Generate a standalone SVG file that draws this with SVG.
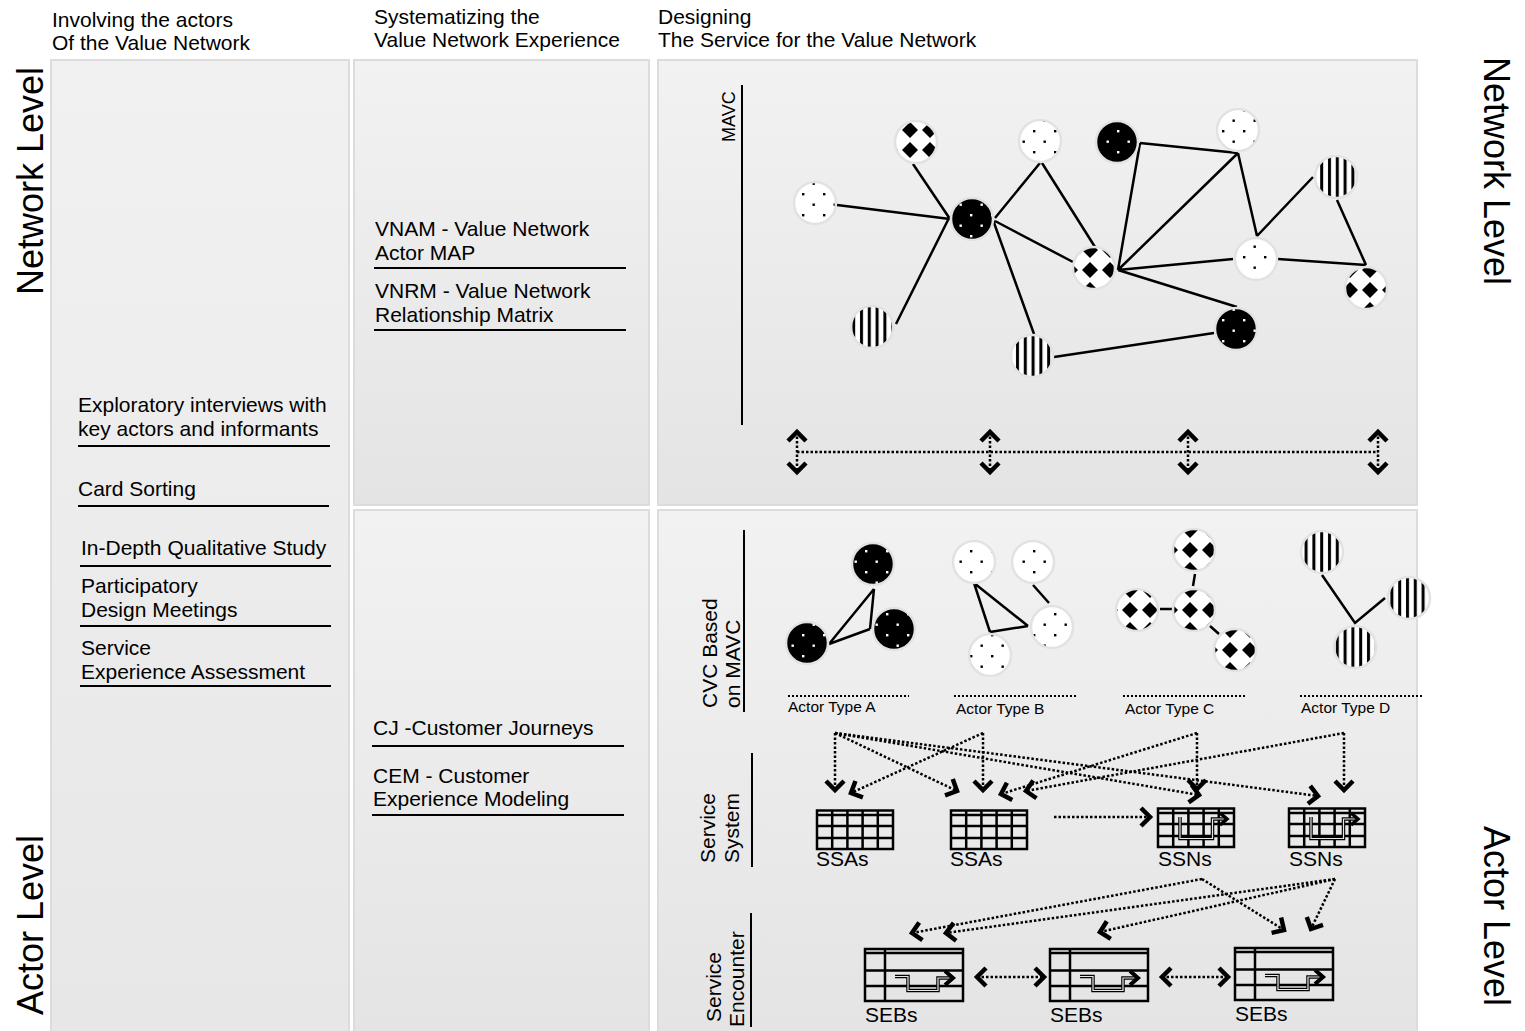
<svg xmlns="http://www.w3.org/2000/svg" width="1525" height="1031" viewBox="0 0 1525 1031">
<style>
text{font-family:"Liberation Sans",Arial,Helvetica,sans-serif;fill:#000}
.t{font-size:21px}
.side{font-size:36px}
.sm{font-size:15.5px}
.panel{stroke:#dcdcdc;stroke-width:2}
.rule{stroke:#000;stroke-width:2}
.edge{stroke:#000;stroke-width:2.5;fill:none}
.dot{stroke:#000;stroke-width:2.5;stroke-dasharray:2.5 2;fill:none}
.sep{stroke:#000;stroke-width:2;stroke-dasharray:2 2;fill:none}
.arr{marker-end:url(#chev)}
.both{marker-start:url(#chev);marker-end:url(#chev)}
.node{stroke:#e2e2e2;stroke-width:2.5}
.grid{fill:none;stroke:#000;stroke-width:2.5}
.flowo{fill:none;stroke:#000;stroke-width:3.5}
.flowi{fill:none;stroke:#e6e6e6;stroke-width:1.2}
</style>
<defs>
  <linearGradient id="bg" x1="0" y1="0" x2="0" y2="1">
    <stop offset="0" stop-color="#f2f2f2"/>
    <stop offset="1" stop-color="#e4e4e4"/>
  </linearGradient>
  <linearGradient id="bgl" x1="0" y1="0" x2="0" y2="1">
    <stop offset="0" stop-color="#f1f1f1"/>
    <stop offset="1" stop-color="#e7e7e7"/>
  </linearGradient>
  <pattern id="pDots" width="21" height="21" patternUnits="userSpaceOnUse">
    <rect width="21" height="21" fill="#fff"/>
    <rect x="4" y="4" width="2.4" height="2.4" fill="#000"/>
    <rect x="14.5" y="14.5" width="2.4" height="2.4" fill="#000"/>
  </pattern>
  <pattern id="pBlack" width="21" height="21" patternUnits="userSpaceOnUse">
    <rect width="21" height="21" fill="#000"/>
    <rect x="4" y="4" width="2.4" height="2.4" fill="#fff"/>
    <rect x="14.5" y="14.5" width="2.4" height="2.4" fill="#fff"/>
  </pattern>
  <pattern id="pDiam" width="20" height="20" patternUnits="userSpaceOnUse">
    <rect width="20" height="20" fill="#fff"/>
    <polygon points="10,2 18,10 10,18 2,10" fill="#000"/>
  </pattern>
  <pattern id="pStripe" width="7.8" height="8" patternUnits="userSpaceOnUse">
    <rect width="7.8" height="8" fill="#fff"/>
    <rect x="2" y="0" width="3" height="8" fill="#000"/>
  </pattern>
  <marker id="chev" viewBox="-2 -2 16 22" refX="9" refY="9" markerWidth="16" markerHeight="22" markerUnits="userSpaceOnUse" orient="auto-start-reverse" overflow="visible">
    <path d="M0,0 L9,9 L0,18" fill="none" stroke="#000" stroke-width="4.5"/>
  </marker>
  <g id="ssa">
    <rect x="0" y="0" width="76" height="38.5" class="grid"/>
    <path d="M0,4.5 H76 M0,15.5 H76 M0,27.5 H76 M15.2,0 V38.5 M30.4,0 V38.5 M45.6,0 V38.5 M60.8,0 V38.5" class="grid"/>
  </g>
  <g id="ssn">
    <use href="#ssa"/>
    <path d="M22,8.5 V30 H54.5 V10.5 H68" class="flowo"/>
    <path d="M22,8.5 V30 H54.5 V10.5 H68" class="flowi"/>
    <path d="M62,4.5 L69,10.5 L62,16.5" fill="none" stroke="#000" stroke-width="3.5"/>
  </g>
  <g id="seb">
    <rect x="0" y="0" width="98" height="52" class="grid"/>
    <path d="M0,4 H98 M0,21.5 H98 M0,37 H98 M20,0 V52" class="grid"/>
    <path d="M30,27.5 H43 V41.5 H73 V29 H86" class="flowo"/>
    <path d="M30,27.5 H43 V41.5 H73 V29 H86" class="flowi"/>
    <path d="M80,22 L88,29 L80,36" fill="none" stroke="#000" stroke-width="4"/>
  </g>
</defs>

<rect width="1525" height="1031" fill="#fff"/>

<!-- column panels -->
<g id="panels">
  <rect x="51" y="60" width="298" height="975" fill="url(#bgl)" class="panel"/>
  <rect x="354" y="60" width="295" height="445" fill="url(#bg)" class="panel"/>
  <rect x="354" y="510" width="295" height="525" fill="url(#bg)" class="panel"/>
  <rect x="658" y="60" width="759" height="445" fill="url(#bg)" class="panel"/>
  <rect x="658" y="510" width="759" height="525" fill="url(#bg)" class="panel"/>
</g>

<!-- column headings -->
<g id="headings" class="t">
  <text x="52" y="27">Involving the actors</text>
  <text x="52" y="50">Of the Value Network</text>
  <text x="374" y="24">Systematizing the</text>
  <text x="374" y="47">Value Network Experience</text>
  <text x="658" y="24">Designing</text>
  <text x="658" y="47">The Service for the Value Network</text>
</g>

<!-- level labels -->
<g id="levels" class="side">
  <text transform="translate(43,295) rotate(-90)">Network Level</text>
  <text transform="translate(43,1015) rotate(-90)">Actor Level</text>
  <text transform="translate(1484,57) rotate(90)">Network Level</text>
  <text transform="translate(1484,826) rotate(90)">Actor Level</text>
</g>

<!-- involvement methods -->
<g id="methods" class="t">
  <text x="78" y="412">Exploratory interviews with</text>
  <text x="78" y="436">key actors and informants</text>
  <line x1="78" y1="446" x2="330" y2="446" class="rule"/>
  <text x="78" y="496">Card Sorting</text>
  <line x1="78" y1="506" x2="329" y2="506" class="rule"/>
  <text x="81" y="555">In-Depth Qualitative Study</text>
  <line x1="80" y1="566" x2="331" y2="566" class="rule"/>
  <text x="81" y="593">Participatory</text>
  <text x="81" y="617">Design Meetings</text>
  <line x1="80" y1="626" x2="331" y2="626" class="rule"/>
  <text x="81" y="655">Service</text>
  <text x="81" y="679">Experience Assessment</text>
  <line x1="80" y1="686" x2="331" y2="686" class="rule"/>
</g>

<!-- systematizing tools -->
<g id="tools" class="t">
  <text x="375" y="236">VNAM - Value Network</text>
  <text x="375" y="260">Actor MAP</text>
  <line x1="374" y1="268" x2="626" y2="268" class="rule"/>
  <text x="375" y="298">VNRM - Value Network</text>
  <text x="375" y="322">Relationship Matrix</text>
  <line x1="374" y1="330" x2="626" y2="330" class="rule"/>
  <text x="373" y="735">CJ -Customer Journeys</text>
  <line x1="372" y1="746" x2="624" y2="746" class="rule"/>
  <text x="373" y="783">CEM - Customer</text>
  <text x="373" y="806">Experience Modeling</text>
  <line x1="372" y1="815" x2="624" y2="815" class="rule"/>
</g>

<!-- axis labels of the design area -->
<g id="axes">
  <text transform="translate(735,142) rotate(-90)" style="font-size:18px">MAVC</text>
  <line x1="742" y1="85" x2="742" y2="425" class="rule"/>
  <text class="t" transform="translate(717,708) rotate(-90)">CVC Based</text>
  <text class="t" transform="translate(740,708) rotate(-90)">on MAVC</text>
  <line x1="744" y1="530" x2="744" y2="712" class="rule"/>
  <text class="t" transform="translate(715,863) rotate(-90)">Service</text>
  <text class="t" transform="translate(739,863) rotate(-90)">System</text>
  <line x1="752" y1="753" x2="752" y2="867" class="rule"/>
  <text class="t" transform="translate(721,1022) rotate(-90)">Service</text>
  <text class="t" transform="translate(744,1027) rotate(-90)">Encounter</text>
  <line x1="751" y1="913" x2="751" y2="1027" class="rule"/>
</g>

<!-- connectors -->
<g id="connectors">
  <!-- value network edges -->
  <path class="edge" d="M837,205 L950,219 M913,164 L950,219 M948,220 L896,324 M993,220 L1034,334 M995,218 L1040,163 M995,221 L1073,262 M1042,163 L1095,247 M1140,143 L1118,270 M1140,143 L1238,153 M1118,270 L1238,153 M1238,153 L1257,236 M1257,236 L1313,177 M1118,270 L1233,259 M1278,259 L1366,265 M1337,200 L1366,265 M1118,270 L1237,307 M1054,357 L1214,333"/>
  <!-- customer value constellation edges -->
  <path class="edge" d="M874,589 L829,644 M874,589 L870,629 M829,644 L870,629"/>
  <path class="edge" d="M974,583 L990,632 M974,583 L1028,626 M990,632 L1028,626 M1033,585 L1049,603"/>
  <path class="edge" d="M1195,574 L1193,586 M1160,609 L1172,609 M1210,626 L1219,634"/>
  <path class="edge" d="M1322,575 L1355,623 L1385,598"/>
  <!-- network to actor-level links -->
  <line x1="797" y1="452" x2="1378" y2="452" class="dot"/>
  <line x1="797" y1="432" x2="797" y2="472" class="dot both"/>
  <line x1="990" y1="432" x2="990" y2="472" class="dot both"/>
  <line x1="1188" y1="432" x2="1188" y2="472" class="dot both"/>
  <line x1="1378" y1="432" x2="1378" y2="472" class="dot both"/>
  <!-- actor types separators -->
  <path class="sep" d="M788,696 H909 M954,696 H1077 M1123,696 H1245 M1300,696 H1422"/>
  <!-- actor types to service system -->
  <line x1="835" y1="733" x2="835" y2="790" class="dot arr"/>
  <line x1="835" y1="733" x2="957" y2="791" class="dot arr"/>
  <line x1="835" y1="733" x2="1199" y2="795" class="dot arr"/>
  <line x1="835" y1="733" x2="1318" y2="796" class="dot arr"/>
  <line x1="983" y1="733" x2="983" y2="790" class="dot arr"/>
  <line x1="983" y1="733" x2="851" y2="793" class="dot arr"/>
  <line x1="1197" y1="733" x2="1197" y2="789" class="dot arr"/>
  <line x1="1197" y1="733" x2="1001" y2="794" class="dot arr"/>
  <line x1="1344" y1="733" x2="1344" y2="790" class="dot arr"/>
  <line x1="1344" y1="733" x2="1026" y2="791" class="dot arr"/>
  <line x1="1054" y1="817" x2="1150" y2="817" class="dot arr"/>
  <!-- service system to service encounter -->
  <line x1="1202" y1="879" x2="912" y2="933" class="dot arr"/>
  <line x1="1202" y1="879" x2="1284" y2="930" class="dot arr"/>
  <line x1="1335" y1="879" x2="946" y2="933" class="dot arr"/>
  <line x1="1335" y1="879" x2="1100" y2="932" class="dot arr"/>
  <line x1="1335" y1="879" x2="1311" y2="929" class="dot arr"/>
  <line x1="977" y1="977" x2="1044" y2="977" class="dot both"/>
  <line x1="1162" y1="977" x2="1228" y2="977" class="dot both"/>
</g>

<!-- value network actors (MAVC) -->
<g id="mavc-actors">
  <g id="va1"><circle cx="815" cy="203" r="21" fill="url(#pDots)" class="node"/></g>
  <g id="va2"><circle cx="916" cy="142" r="21" fill="url(#pDiam)" class="node"/></g>
  <g id="va3"><circle cx="1040" cy="141" r="21" fill="url(#pDots)" class="node"/></g>
  <g id="va4"><circle cx="972" cy="219" r="21" fill="url(#pBlack)" class="node"/></g>
  <g id="va5"><circle cx="1117" cy="142" r="21" fill="url(#pBlack)" class="node"/></g>
  <g id="va6"><circle cx="1238" cy="130" r="21" fill="url(#pDots)" class="node"/></g>
  <g id="va7"><circle cx="1336" cy="177" r="21" fill="url(#pStripe)" class="node"/></g>
  <g id="va8"><circle cx="1094" cy="268" r="21" fill="url(#pDiam)" class="node"/></g>
  <g id="va9"><circle cx="1256" cy="259" r="21" fill="url(#pDots)" class="node"/></g>
  <g id="va10"><circle cx="1366" cy="288" r="21" fill="url(#pDiam)" class="node"/></g>
  <g id="va11"><circle cx="872" cy="327" r="21" fill="url(#pStripe)" class="node"/></g>
  <g id="va12"><circle cx="1032" cy="356" r="21" fill="url(#pStripe)" class="node"/></g>
  <g id="va13"><circle cx="1236" cy="329" r="21" fill="url(#pBlack)" class="node"/></g>
</g>

<!-- customer value constellations -->
<g id="cvc-a">
  <circle cx="873" cy="564" r="21" fill="url(#pBlack)" class="node"/>
  <circle cx="807" cy="643" r="21" fill="url(#pBlack)" class="node"/>
  <circle cx="894" cy="629" r="21" fill="url(#pBlack)" class="node"/>
  <text x="788" y="712" class="sm">Actor Type A</text>
</g>
<g id="cvc-b">
  <circle cx="974" cy="562" r="21" fill="url(#pDots)" class="node"/>
  <circle cx="1033" cy="562" r="21" fill="url(#pDots)" class="node"/>
  <circle cx="1052" cy="627" r="21" fill="url(#pDots)" class="node"/>
  <circle cx="990" cy="655" r="21" fill="url(#pDots)" class="node"/>
  <text x="956" y="714" class="sm">Actor Type B</text>
</g>
<g id="cvc-c">
  <circle cx="1194" cy="550" r="21" fill="url(#pDiam)" class="node"/>
  <circle cx="1137" cy="610" r="21" fill="url(#pDiam)" class="node"/>
  <circle cx="1194" cy="610" r="21" fill="url(#pDiam)" class="node"/>
  <circle cx="1235" cy="650" r="21" fill="url(#pDiam)" class="node"/>
  <text x="1125" y="714" class="sm">Actor Type C</text>
</g>
<g id="cvc-d">
  <circle cx="1322" cy="552" r="21" fill="url(#pStripe)" class="node"/>
  <circle cx="1409" cy="598" r="21" fill="url(#pStripe)" class="node"/>
  <circle cx="1355" cy="647" r="21" fill="url(#pStripe)" class="node"/>
  <text x="1301" y="713" class="sm">Actor Type D</text>
</g>

<!-- service system blueprints -->
<g id="ssa-1"><use href="#ssa" x="817" y="810.5"/><text x="816" y="866" class="t">SSAs</text></g>
<g id="ssa-2"><use href="#ssa" x="951" y="810.5"/><text x="950" y="866" class="t">SSAs</text></g>
<g id="ssn-1"><use href="#ssn" x="1158" y="808.5"/><text x="1158" y="866" class="t">SSNs</text></g>
<g id="ssn-2"><use href="#ssn" x="1289" y="808.5"/><text x="1289" y="866" class="t">SSNs</text></g>

<!-- service encounter blueprints -->
<g id="seb-1"><use href="#seb" x="865" y="949"/><text x="865" y="1022" class="t">SEBs</text></g>
<g id="seb-2"><use href="#seb" x="1050" y="949"/><text x="1050" y="1022" class="t">SEBs</text></g>
<g id="seb-3"><use href="#seb" x="1235" y="948"/><text x="1235" y="1021" class="t">SEBs</text></g>
</svg>
